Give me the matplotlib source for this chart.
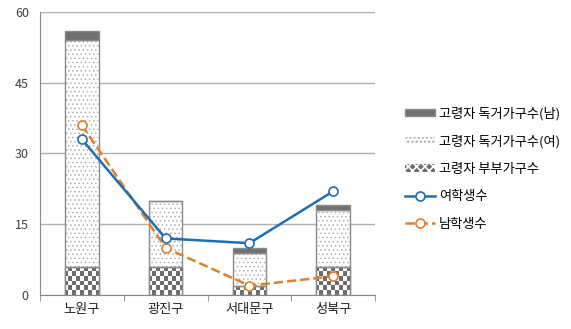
import matplotlib.pyplot as plt
import numpy as np
from matplotlib.patches import Patch

plt.rcParams['font.family'] = ['Noto Sans CJK KR', 'DejaVu Sans']

# data
districts = ['노원구', '광진구', '서대문구', '성북구']
couple = [6, 6, 2, 6]          # 고령자 부부가구수
alone_f = [48, 14, 7, 12]      # 고령자 독거가구수(여)
alone_m = [2, 0, 1, 1]         # 고령자 독거가구수(남)
girls = [33, 12, 11, 22]       # 여학생수
boys = [36, 10, 2, 4]          # 남학생수
yticks = [0, 15, 30, 45, 60]

x = np.arange(len(districts))
w = 0.4
edge = '#8a8a8a'

fig = plt.figure(figsize=(5.71, 3.29), dpi=100)
ax = fig.add_axes([0.07, 0.103, 0.587, 0.861])
ax.set_xlim(-0.5, 3.5)
ax.set_ylim(0, 60)

# checkerboard bars (부부가구수): bar drawn, then a checker texture clipped to it
b1 = ax.bar(x, couple, w, color='#6e6e6e', edgecolor=edge, linewidth=1,
            label='고령자 부부가구수', zorder=2)
ny, nx = 61, 84
checker = (np.indices((ny, nx)).sum(axis=0) % 2).astype(float)
for p in b1.patches:
    im = ax.imshow(checker, cmap='gray', vmin=-0.75, vmax=1.0, extent=(-0.5, 3.5, 0, 60),
                   aspect='auto', interpolation='nearest', zorder=2)
    im.set_clip_path(p)
ax.bar(x, couple, w, fill=False, edgecolor=edge, linewidth=1, zorder=3)

plt.rcParams['hatch.linewidth'] = 0.6
bot2 = np.array(couple)
b2 = ax.bar(x, alone_f, w, bottom=bot2, color='white', hatch='....', edgecolor='#b0b0b0',
            linewidth=0, label='고령자 독거가구수(여)', zorder=2)
ax.bar(x, alone_f, w, bottom=bot2, fill=False, edgecolor=edge, linewidth=1, zorder=3)

bot3 = bot2 + np.array(alone_f)
b3 = ax.bar(x, alone_m, w, bottom=bot3, color='#707070', edgecolor=edge, linewidth=1,
            label='고령자 독거가구수(남)', zorder=3)

l1, = ax.plot(x, girls, color='#1f6db3', lw=1.8, marker='o', ms=6.5, mfc='white',
              mec='#1f6db3', mew=1.2, label='여학생수', zorder=5)
l2, = ax.plot(x, boys, color='#e0802c', lw=1.8, ls='--', marker='o', ms=6.5, mfc='white',
              mec='#e0802c', mew=1.2, label='남학생수', zorder=4)

ax.set_yticks(yticks)
ax.set_xticks(x)
ax.set_xticklabels(districts, fontsize=9.5)
ax.set_xticks(np.arange(-0.5, 4, 1), minor=True)
ax.tick_params(axis='x', which='major', length=0, pad=6)
ax.tick_params(axis='x', which='minor', length=4, color=edge)
ax.tick_params(axis='y', length=0, labelsize=9, colors='#404040', pad=8)
ax.tick_params(axis='x', colors='#202020')
ax.grid(axis='y', color='#b0b0b0', lw=1)
ax.set_axisbelow(True)
for s in ['top', 'right']:
    ax.spines[s].set_visible(False)
ax.spines['left'].set_color(edge)
ax.spines['bottom'].set_color(edge)

# legend proxy for the checker pattern
plt.rcParams['hatch.linewidth'] = 1.2
p1 = Patch(facecolor='#6e6e6e', edgecolor='white', hatch='xxxx', linewidth=0)

fig.legend([b3, b2, p1, l1, l2],
           ['고령자 독거가구수(남)', '고령자 독거가구수(여)', '고령자 부부가구수', '여학생수', '남학생수'],
           loc='upper left', bbox_to_anchor=(0.688, 0.712), frameon=False, fontsize=9.5,
           handlelength=2.3, handleheight=0.5, handletextpad=0.3, labelspacing=1.1)

fig.savefig('out.png', dpi=100)
